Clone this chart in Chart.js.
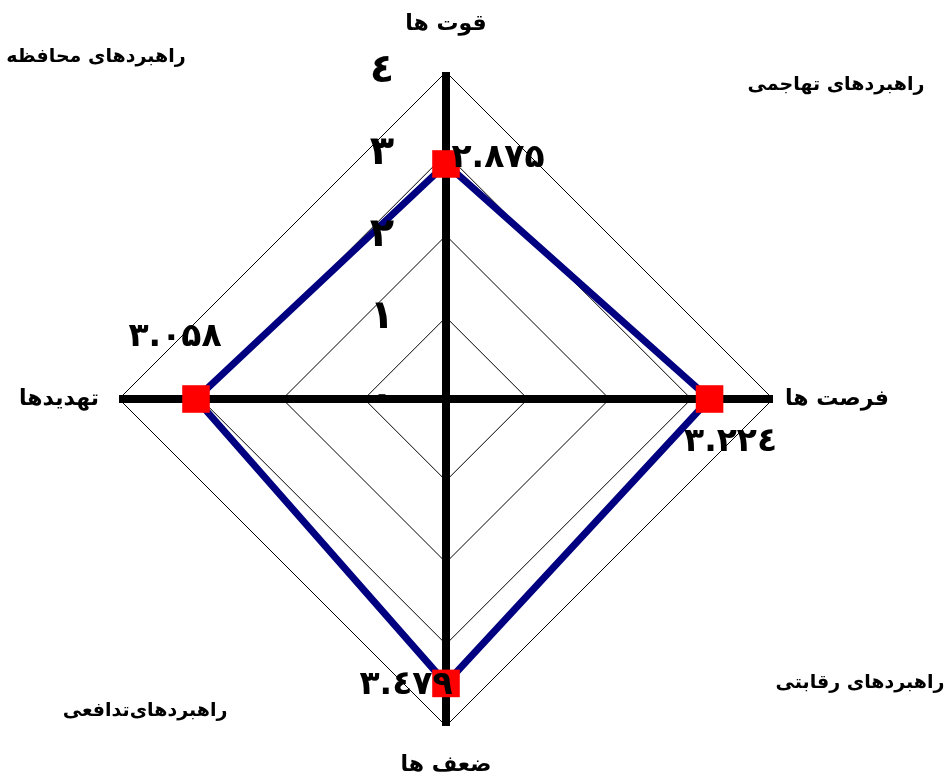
<!DOCTYPE html>
<html>
<head>
<meta charset="utf-8">
<script src="https://cdn.jsdelivr.net/npm/chart.js@4.4.1/dist/chart.umd.min.js"></script>
<style>
  html, body { margin: 0; padding: 0; background: #fff; }
  canvas { display: block; }
</style>
</head>
<body>
<canvas id="chart-swot" width="947" height="773"></canvas>
<script>
'use strict';

// ترتیب محورها: بالا، راست، پایین، چپ
const categories = ['قوت ها', 'فرصت ها', 'ضعف ها', 'تهدیدها'];
const values = [2.875, 3.224, 3.479, 3.058];
const tickValues = [0, 1, 2, 3, 4];
// ربع‌ها: بالا-راست، پایین-راست، پایین-چپ، بالا-چپ
const quadrantLabels = ['راهبردهای تهاجمی', 'راهبردهای رقابتی', 'راهبردهای\u200Cتدافعی', 'راهبردهای محافظه'];

const faDigits = ['۰', '۱', '۲', '۳', '٤', '۵', '۶', '۷', '۸', '۹'];
const toFa = (v) => String(v).replace(/\d/g, (d) => faDigits[+d]);

const FONT = "'DejaVu Sans', sans-serif";

const layoutCfg = {
    labelDist: [48, 64, 39, 60],
    valueOffsets: [[52, -6], [21, 43], [-40, 2], [-21, -62]],
    quadrantPos: [[390, -314], [414, 284], [-301, 312], [-350, -342]],
    tickX: -64
};

const textPlugin = {
    id: 'swotText',
    afterDatasetsDraw(chart) {
        const ctx = chart.ctx;
        const scale = chart.scales.r;
        const cx = scale.xCenter;
        const cy = scale.yCenter;
        const R = scale.drawingArea;
        ctx.save();
        ctx.fillStyle = '#000';
        ctx.textAlign = 'center';
        ctx.textBaseline = 'middle';

        // برچسب‌های مقیاس
        ctx.direction = 'ltr';
        ctx.font = 'bold 40px ' + FONT;
        tickValues.forEach((v) => {
            const y = cy - scale.getDistanceFromCenterForValue(v);
            ctx.fillText(toFa(v), cx + layoutCfg.tickX, y);
        });

        // مقادیر
        ctx.font = 'bold 33px ' + FONT;
        const meta = chart.getDatasetMeta(0);
        meta.data.forEach((pt, i) => {
            const off = layoutCfg.valueOffsets[i];
            ctx.fillText(toFa(values[i]), pt.x + off[0], pt.y + off[1]);
        });

        // عنوان محورها
        ctx.direction = 'rtl';
        ctx.font = 'bold 22px ' + FONT;
        categories.forEach((label, i) => {
            const p = scale.getPointPosition(i, R + layoutCfg.labelDist[i]);
            ctx.fillText(label, p.x, p.y);
        });

        // راهبردها
        ctx.font = 'bold 19px ' + FONT;
        quadrantLabels.forEach((label, i) => {
            const q = layoutCfg.quadrantPos[i];
            ctx.fillText(label, cx + q[0], cy + q[1]);
        });
        ctx.restore();
    }
};

new Chart(document.getElementById('chart-swot'), {
    type: 'radar',
    data: {
        labels: categories,
        datasets: [{
            data: values,
            borderColor: '#000080',
            borderWidth: 7,
            fill: false,
            pointStyle: 'rect',
            pointRadius: 19.5,
            pointHoverRadius: 19.5,
            pointBackgroundColor: '#ff0000',
            pointBorderWidth: 0
        }]
    },
    options: {
        responsive: false,
        animation: false,
        devicePixelRatio: 1,
        layout: { padding: { left: 119, right: 174, top: 72, bottom: 47 } },
        plugins: {
            legend: { display: false },
            tooltip: { enabled: false }
        },
        scales: {
            r: {
                min: 0,
                max: 4,
                ticks: { display: false, stepSize: 1 },
                grid: { color: '#000', lineWidth: 1 },
                angleLines: { color: '#000', lineWidth: 8 },
                pointLabels: { display: false }
            }
        }
    },
    plugins: [textPlugin]
});
</script>
</body>
</html>
